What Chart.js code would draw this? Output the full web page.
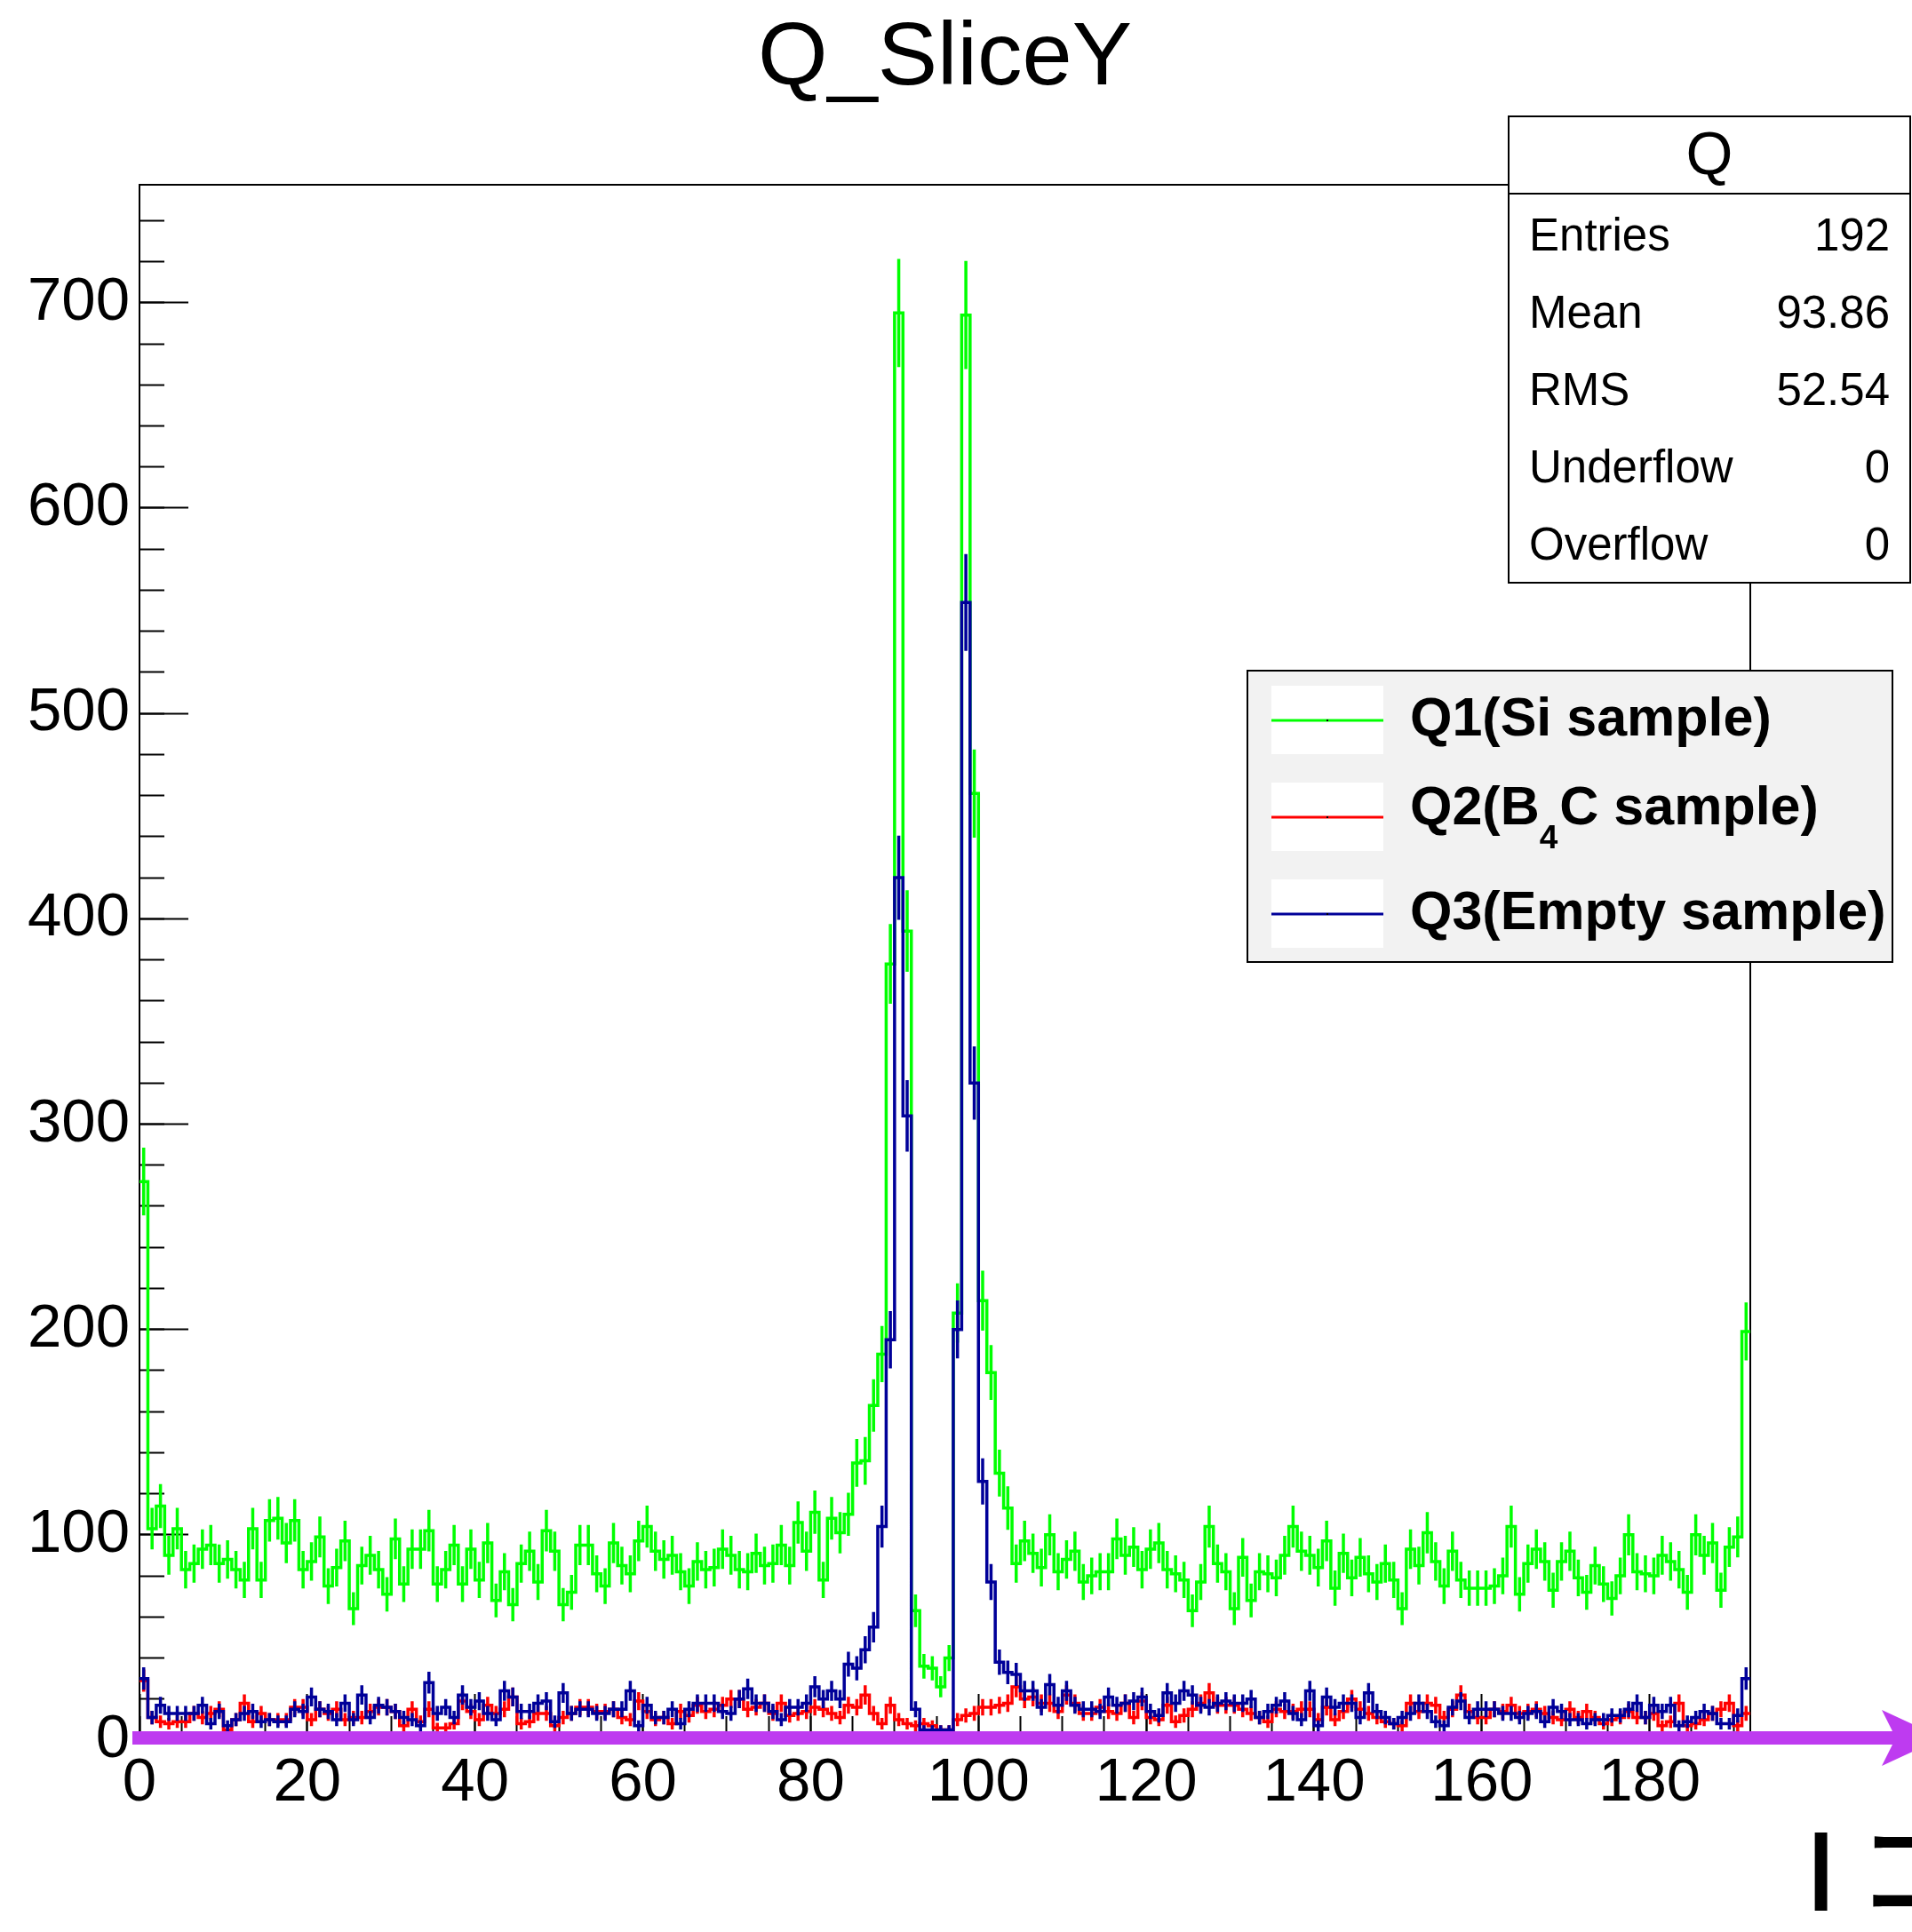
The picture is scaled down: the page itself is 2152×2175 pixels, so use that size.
<!DOCTYPE html>
<html>
<head>
<meta charset="utf-8">
<title>Q_SliceY</title>
<script src="https://cdn.jsdelivr.net/npm/chart.js@4.4.1/dist/chart.umd.min.js"></script>
<style>
  html, body { margin: 0; padding: 0; background: #ffffff; }
  #c { display: block; }
</style>
</head>
<body>
<canvas id="c" width="2152" height="2175"></canvas>
<script>
// ---- histogram binning ----
const N_BINS = 192;
const X_MIN = 0;
const X_MAX = 192;

// ---- bin contents (counts per bin) ----
const q1Counts = [
  272,103,114, 90,103, 83, 86, 93, 95, 86,
   88, 83, 78,103, 78,107,108, 96,107, 83,
   87, 99, 75, 84, 97, 64, 85, 90, 83, 71,
   98, 76, 93, 93,102, 76, 83, 95, 76, 93,
   78, 96, 68, 82, 66, 86, 92, 77,102, 92,
   66, 72, 95, 95, 81, 75, 96, 85, 81, 97,
  104, 92, 88, 90, 82, 75, 87, 83, 84, 93,
   90, 83, 82, 91, 85, 86, 95, 85,106, 92,
  111, 78,108,101,110,135,136,163,188,378,
  695,394, 63, 36, 35, 26, 40,208,694,461,
  214,179,130,113, 86, 97, 91, 84,100, 82,
   88, 92, 77, 80, 82, 82, 98, 90, 94, 83,
   93, 96, 83, 81, 78, 63, 77,104, 86, 82,
   64, 89, 68, 82, 81, 79, 90,104, 92, 90,
   84, 97, 74, 91, 79, 89, 81, 77, 86, 78,
   64, 93, 85,101, 87, 75, 92, 78, 74, 74,
   74, 75, 80,104, 71, 86, 93, 87, 73, 87,
   92, 79, 72, 85, 76, 69, 80,100, 82, 81,
   80, 90, 87, 83, 72,100, 90, 96, 73, 94,
   99,199
];
const q2Counts = [
   29, 11,  9,  8,  9,  9, 13, 11, 13, 15,
    5, 10, 18,  9, 13, 10, 10, 10, 16, 16,
   10, 15, 13, 15, 10, 11, 11, 14, 16, 16,
   14,  7, 15,  9, 15,  6,  6,  8, 19, 14,
   10, 17, 13, 15, 21,  8,  9, 13, 13,  7,
   11, 13, 16, 16, 14, 14, 15, 11, 10, 19,
   14, 10, 11,  8, 14, 12, 17, 14, 15, 17,
   20, 20, 15, 16, 18, 13, 18, 12, 13, 14,
   16, 15, 13, 11, 17, 16, 22, 13,  8, 17,
   10,  8,  7,  8,  7,  5,  5, 10, 12, 13,
   16, 16, 17, 18, 26, 20, 21, 18, 18, 14,
   22, 18, 13, 13, 16, 14, 13, 18, 11, 19,
   11, 10, 17,  9, 12, 15, 18, 23, 17, 17,
   17, 15, 13, 11,  9, 15, 14, 14, 15, 15,
   10, 16, 10, 14, 20, 15, 13, 11,  9,  8,
    7, 18, 14, 18, 17, 11, 15, 22, 14, 11,
   11, 15, 14, 17, 13, 14, 15, 13, 11, 10,
   15, 11, 14, 11,  8, 10, 11, 14, 11, 11,
   13,  7,  9, 18,  7,  8, 10, 13, 15, 18,
    7, 13
];
const q3Counts = [
   30, 11, 17, 13, 13, 13, 13, 17,  8, 14,
    7, 10, 13, 14,  9, 10,  9,  9, 15, 14,
   21, 15, 14, 10, 18, 10, 22, 11, 17, 16,
   14, 11, 10,  7, 28, 13, 16, 11, 22, 16,
   19, 13, 10, 24, 21, 14, 14, 18, 19,  9,
   23, 13, 15, 15, 13, 13, 15, 15, 24,  7,
   17, 11, 11, 15,  8, 15, 18, 18, 18, 14,
   13, 20, 25, 18, 18, 14, 10, 16, 16, 18,
   26, 20, 24, 20, 37, 35, 44, 55,104,195,
  420,304, 15,  5,  5,  5,  5,200,554,320,
  126, 77, 38, 33, 32, 24, 24, 16, 27, 17,
   24, 17, 15, 15, 14, 21, 17, 18, 19, 21,
   14, 12, 23, 18, 24, 22, 17, 16, 18, 19,
   18, 18, 20, 11, 14, 17, 19, 13, 10, 24,
    7, 21, 16, 18, 18, 11, 23, 14, 11,  8,
   11, 13, 18, 14,  9,  7, 16, 19, 11, 15,
   15, 15, 13, 13, 11, 13, 14,  9, 16, 14,
   10, 10,  8, 10, 10, 12, 12, 15, 18, 11,
   17, 14, 17,  7,  9, 11, 14, 13,  8,  8,
   12, 30
];

// ---- series labels (ROOT-style "_{}" marks a subscript) ----
const seriesLabels = ['Q1(Si sample)', 'Q2(B_{4}C sample)', 'Q3(Empty sample)'];
const seriesColors = ['#00ff00', '#ff0000', '#000099'];

// ---- statistics panel ----
const statsTitle = 'Q';
const statsNames = ['Entries', 'Mean', 'RMS', 'Underflow', 'Overflow'];
const statsValues = ['192', '93.86', '52.54', '0', '0'];

// ---- axis tick spacing ----
const xMajorStep = 20;
const xMinorStep = 5;
const yMajorStep = 100;
const yMinorStep = 20;

// ---- titles ----
const plotTitle = 'Q_SliceY';
const xAxisTitle = ['I', 'コ'];

// ------------------------------------------------------------------
const FONT = 'Liberation Sans';
Chart.defaults.font.family = FONT;
Chart.defaults.color = '#000000';

const binWidth = (X_MAX - X_MIN) / N_BINS;
const allSeries = [q1Counts, q2Counts, q3Counts];

// vertical range as ROOT picks it: 5% above the highest error-bar top
const yTop = Math.max(...allSeries.flat().map(v => v + Math.sqrt(v))) * 1.05;

// histogram outline: one point at each bin's low edge plus the final edge
function outlinePoints(vals) {
  const pts = vals.map((v, i) => ({ x: X_MIN + i * binWidth, y: v }));
  pts.push({ x: X_MAX, y: vals[vals.length - 1] });
  return pts;
}
// sqrt(N) error bars at bin centres, separated by gaps
function errorPoints(vals) {
  const pts = [];
  vals.forEach((v, i) => {
    const c = X_MIN + (i + 0.5) * binWidth;
    const e = Math.sqrt(v);
    pts.push({ x: c, y: v - e }, { x: c, y: v + e }, { x: c, y: null });
  });
  return pts;
}

const LINE_W = 3.5;
const datasets = [];
allSeries.forEach((vals, k) => {
  const drawOrder = allSeries.length - k; // later histograms on top
  datasets.push({
    label: seriesLabels[k],
    data: outlinePoints(vals),
    borderColor: seriesColors[k],
    borderWidth: LINE_W,
    stepped: 'before',
    pointRadius: 0,
    fill: false,
    tension: 0,
    borderJoinStyle: 'miter',
    borderCapStyle: 'butt',
    order: drawOrder
  });
  datasets.push({
    label: seriesLabels[k] + ' errors',
    data: errorPoints(vals),
    borderColor: seriesColors[k],
    borderWidth: LINE_W,
    pointRadius: 0,
    fill: false,
    spanGaps: false,
    borderCapStyle: 'butt',
    order: drawOrder
  });
});

// draws a ROOT-like label, "_{x}" rendered as a lowered, smaller x
function drawLatex(ctx, text, x, y, size, weight, mainRaise, subDrop) {
  const parts = [];
  const re = /_\{([^}]*)\}/g;
  let last = 0, m;
  while ((m = re.exec(text)) !== null) {
    if (m.index > last) parts.push({ t: text.slice(last, m.index), sub: false });
    parts.push({ t: m[1], sub: true });
    last = re.lastIndex;
  }
  if (last < text.length) parts.push({ t: text.slice(last), sub: false });
  const hasSub = parts.some(p => p.sub);
  const mainY = hasSub ? y - mainRaise : y;
  const subSize = Math.round(size * 0.6);
  ctx.textAlign = 'left';
  ctx.textBaseline = 'middle';
  let cx = x;
  parts.forEach(p => {
    if (p.sub) {
      ctx.font = `${weight} ${subSize}px "${FONT}"`;
      ctx.fillText(p.t, cx, y + subDrop);
      cx += ctx.measureText(p.t).width + 2;
    } else {
      ctx.font = `${weight} ${size}px "${FONT}"`;
      ctx.fillText(p.t, cx, mainY);
      cx += ctx.measureText(p.t).width;
    }
  });
}

const overlayPlugin = {
  id: 'overlay',
  afterDraw(chart) {
    const { ctx, chartArea } = chart;
    const y0 = chart.scales.y.getPixelForValue(0);
    ctx.save();

    // purple arrow running along the x axis
    const bandTop = y0 - 10, bandBot = y0 + 5;
    const mid = (bandTop + bandBot) / 2;
    ctx.fillStyle = '#be3bf0';
    ctx.beginPath();
    ctx.moveTo(chartArea.left - 8, bandTop);
    ctx.lineTo(2130, bandTop);
    ctx.lineTo(2118, mid - 31.5);
    ctx.lineTo(2186, mid);
    ctx.lineTo(2118, mid + 31.5);
    ctx.lineTo(2130, bandBot);
    ctx.lineTo(chartArea.left - 8, bandBot);
    ctx.closePath();
    ctx.fill();

    // statistics box
    const sx = 1698, sy = 131, sw = 452, sh = 525, headH = 87;
    ctx.fillStyle = '#ffffff';
    ctx.fillRect(sx, sy, sw, sh);
    ctx.strokeStyle = '#000000';
    ctx.lineWidth = 2;
    ctx.strokeRect(sx, sy, sw, sh);
    ctx.beginPath();
    ctx.moveTo(sx, sy + headH);
    ctx.lineTo(sx + sw, sy + headH);
    ctx.stroke();
    ctx.fillStyle = '#000000';
    ctx.font = `68px "${FONT}"`;
    ctx.textAlign = 'center';
    ctx.textBaseline = 'middle';
    ctx.fillText(statsTitle, sx + 226, sy + 46);
    ctx.font = `51px "${FONT}"`;
    statsNames.forEach((name, i) => {
      const ry = 268 + i * 87;
      ctx.textAlign = 'left';
      ctx.fillText(name, 1721, ry);
      ctx.textAlign = 'right';
      ctx.fillText(statsValues[i], 2127, ry);
    });

    // legend
    const lx = 1404, ly = 755, lw = 726, lh = 328;
    ctx.fillStyle = '#f2f2f2';
    ctx.fillRect(lx, ly, lw, lh);
    ctx.strokeStyle = '#000000';
    ctx.lineWidth = 2;
    ctx.strokeRect(lx, ly, lw, lh);
    chart.data.datasets.filter((d, i) => i % 2 === 0).forEach((ds, k) => {
      const ry = 811 + k * 109;
      ctx.fillStyle = '#ffffff';
      ctx.fillRect(1431, ry - 39, 126, 77);
      ctx.strokeStyle = ds.borderColor;
      ctx.lineWidth = 3;
      ctx.beginPath();
      ctx.moveTo(1431, ry);
      ctx.lineTo(1557, ry);
      ctx.stroke();
      ctx.fillStyle = '#000000';
      ctx.fillRect(1493, ry - 1, 2, 2);
      drawLatex(ctx, ds.label, 1587, ry, 61, 'bold', 9, 25);
    });

    // axis title at the lower right
    ctx.fillStyle = '#000000';
    ctx.font = `500 120px "Noto Sans CJK JP"`;
    ctx.textAlign = 'left';
    ctx.textBaseline = 'alphabetic';
    const mI = ctx.measureText(xAxisTitle[0]);
    ctx.fillText(xAxisTitle[0], 2042 + mI.actualBoundingBoxLeft, 2151);
    ctx.fillText(xAxisTitle[1], 2090, 2151);

    ctx.restore();
  }
};

const tickFont = { family: FONT, size: 69 };

new Chart(document.getElementById('c').getContext('2d'), {
  type: 'line',
  data: { datasets },
  options: {
    responsive: false,
    animation: false,
    devicePixelRatio: 1,
    events: [],
    layout: { padding: 0 },
    plugins: {
      legend: { display: false },
      tooltip: { enabled: false },
      title: {
        display: true,
        fullSize: false,
        text: plotTitle,
        color: '#000000',
        font: { family: FONT, size: 101, weight: 'normal', lineHeight: 1 },
        padding: { top: 17, bottom: 0 }
      }
    },
    scales: {
      x: {
        type: 'linear', position: 'bottom', min: X_MIN, max: X_MAX, weight: 1,
        ticks: {
          stepSize: xMajorStep, includeBounds: false, autoSkip: false, maxRotation: 0,
          color: '#000000', font: tickFont, padding: 60,
          callback: v => String(v)
        },
        grid: { drawOnChartArea: false, drawTicks: true, tickLength: -52, tickWidth: 2, tickColor: '#000000' },
        border: { display: true, color: '#000000', width: 2 },
        afterFit: s => { s.height = 216; }
      },
      xMinor: {
        type: 'linear', position: 'bottom', min: X_MIN, max: X_MAX, weight: 0,
        ticks: { stepSize: xMinorStep, includeBounds: false, display: false },
        grid: { drawOnChartArea: false, drawTicks: true, tickLength: -27, tickWidth: 2, tickColor: '#000000' },
        border: { display: false },
        afterFit: s => { s.height = 0; }
      },
      xTop: {
        type: 'linear', position: 'top', min: X_MIN, max: X_MAX,
        ticks: { display: false },
        grid: { drawOnChartArea: false, drawTicks: false },
        border: { display: true, color: '#000000', width: 2 },
        afterFit: s => { s.height = 90; }
      },
      y: {
        type: 'linear', position: 'left', min: 0, max: yTop, weight: 1,
        ticks: {
          stepSize: yMajorStep, includeBounds: false, autoSkip: false,
          color: '#000000', font: tickFont, padding: 66,
          callback: v => String(v)
        },
        grid: { drawOnChartArea: false, drawTicks: true, tickLength: -55, tickWidth: 2, tickColor: '#000000' },
        border: { display: true, color: '#000000', width: 2 },
        afterFit: s => { s.width = 157; }
      },
      yMinor: {
        type: 'linear', position: 'left', min: 0, max: yTop, weight: 0,
        ticks: { stepSize: yMinorStep, includeBounds: false, display: false },
        grid: { drawOnChartArea: false, drawTicks: true, tickLength: -28, tickWidth: 2, tickColor: '#000000' },
        border: { display: false },
        afterFit: s => { s.width = 0; }
      },
      yRight: {
        type: 'linear', position: 'right', min: 0, max: yTop,
        ticks: { display: false },
        grid: { drawOnChartArea: false, drawTicks: false },
        border: { display: true, color: '#000000', width: 2 },
        afterFit: s => { s.width = 182; }
      }
    }
  },
  plugins: [overlayPlugin]
});
</script>
</body>
</html>
